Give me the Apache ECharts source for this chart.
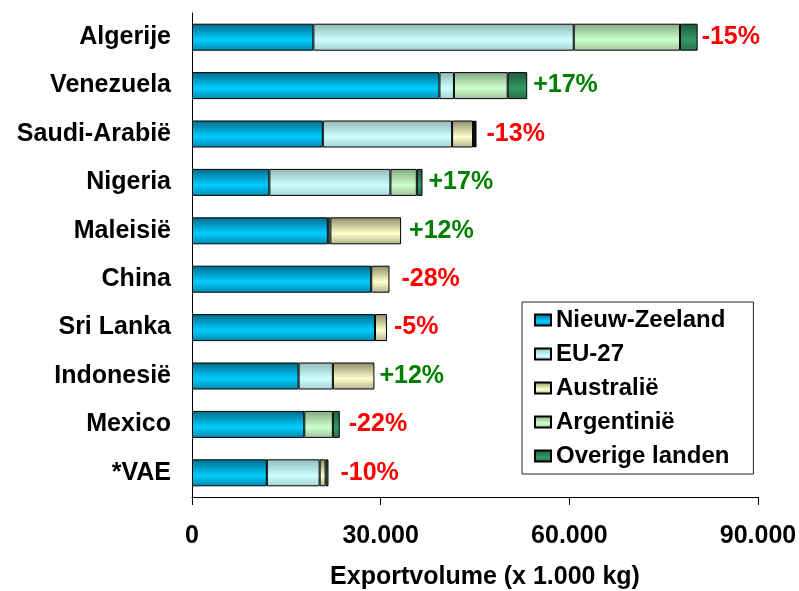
<!DOCTYPE html>
<html>
<head>
<meta charset="utf-8">
<script src="https://cdn.jsdelivr.net/npm/echarts@6/dist/echarts.min.js"></script>
<style>
html,body{margin:0;padding:0;background:#fff;}
#chart{width:799px;height:591px;}
</style>
</head>
<body>
<div id="chart"></div>
<script>
// ---- Data ----
const categories = ['Algerije','Venezuela','Saudi-Arabië','Nigeria','Maleisië','China','Sri Lanka','Indonesië','Mexico','*VAE'];
const nieuwZeeland = [19300, 39350, 20800, 12300, 21600, 28500, 29100, 16950, 17850, 11900];
const eu27         = [41400,  2300, 20560, 19250,   400,     0,     0,  5450,     0,  8400];
const australie    = [    0,     0,  3330,     0, 11250,  2900,  1900,  6600,     0,   950];
const argentinie   = [16900,  8550,   300,  4200,     0,     0,     0,     0,  4550,     0];
const overige      = [ 2800,  3100,   250,   900,     0,     0,     0,     0,  1100,   450];
const changes      = ['-15%','+17%','-13%','+17%','+12%','-28%','-5%','+12%','-22%','-10%'];
const xTicks       = [0, 30000, 60000, 90000];

// layout only: gap (px) between bar end and its change label
const labelGaps = [4, 6, 10, 6, 8, 12, 7, 5, 9, 12];

const seriesNames = ['Nieuw-Zeeland','EU-27','Australië','Argentinië','Overige landen'];
const seriesData = [nieuwZeeland, eu27, australie, argentinie, overige];

const FONT = '"Liberation Sans", Arial, sans-serif';

function grad(dark, base, dark2) {
  return new echarts.graphic.LinearGradient(0, 0, 0, 1, [
    {offset: 0, color: dark},
    {offset: 0.6, color: base},
    {offset: 1, color: dark2}
  ]);
}
const fills = [
  grad('#006a88', '#00ccff', '#0088aa'),
  grad('#92b8b8', '#ccffff', '#a8d0d0'),
  grad('#8c8c6a', '#ffffcc', '#b0b090'),
  grad('#84a884', '#ccffcc', '#a0c0a0'),
  grad('#1c5a3a', '#339966', '#22704a')
];

const totals = categories.map((_, i) => seriesData.reduce((s, arr) => s + arr[i], 0));

const barSeries = seriesNames.map((name, k) => ({
  name: name,
  type: 'bar',
  stack: 'total',
  barWidth: 27,
  itemStyle: { color: fills[k], borderColor: '#000', borderWidth: 1 },
  emphasis: { disabled: true },
  data: seriesData[k].map(v => v === 0 ? '-' : v)
}));

const labelSeries = {
  name: 'labels',
  type: 'scatter',
  symbolSize: 0,
  silent: true,
  itemStyle: { opacity: 1 },
  data: totals.map((t, i) => ({
    value: [t, i],
    label: {
      show: true,
      position: 'right',
      distance: labelGaps[i],
      formatter: changes[i],
      color: changes[i].charAt(0) === '-' ? '#ff0000' : '#008000',
      opacity: 1,
      fontFamily: FONT,
      fontWeight: 'bold',
      fontSize: 25
    }
  }))
};

const chart = echarts.init(document.getElementById('chart'), null, {renderer: 'canvas'});
chart.setOption({
  animation: false,
  backgroundColor: '#fff',
  grid: { left: 192, right: 41, top: 13, bottom: 94, containLabel: false, outerBoundsMode: 'none' },
  legend: {
    data: seriesNames,
    orient: 'vertical',
    left: 522,
    top: 302,
    icon: 'rect',
    itemWidth: 16,
    itemHeight: 11,
    itemGap: 10,
    padding: [6, 24, 6, 12],
    backgroundColor: '#fff',
    borderColor: '#222',
    borderWidth: 1,
    selectedMode: false,
    textStyle: { fontFamily: FONT, fontWeight: 'bold', fontSize: 24, color: '#000', lineHeight: 24 }
  },
  xAxis: {
    type: 'value',
    min: xTicks[0],
    max: xTicks[xTicks.length - 1],
    interval: xTicks[1] - xTicks[0],
    splitLine: { show: false },
    axisLine: { show: true, lineStyle: { color: '#000', width: 1 } },
    axisTick: { show: true, length: 8, lineStyle: { color: '#000' } },
    axisLabel: {
      margin: 27,
      fontFamily: FONT, fontWeight: 'bold', fontSize: 25, color: '#000',
      formatter: v => v.toLocaleString('de-DE')
    },
    name: 'Exportvolume (x 1.000 kg)',
    nameLocation: 'middle',
    nameGap: 68,
    nameTextStyle: { fontFamily: FONT, fontWeight: 'bold', fontSize: 25, color: '#000', padding: [0, 0, 0, 20] }
  },
  yAxis: {
    type: 'category',
    data: categories,
    inverse: true,
    axisLine: { show: true, lineStyle: { color: '#000', width: 1 } },
    axisTick: { show: false },
    axisLabel: { margin: 21, fontFamily: FONT, fontWeight: 'bold', fontSize: 25, color: '#000' }
  },
  series: barSeries.concat([labelSeries])
});
</script>
</body>
</html>
